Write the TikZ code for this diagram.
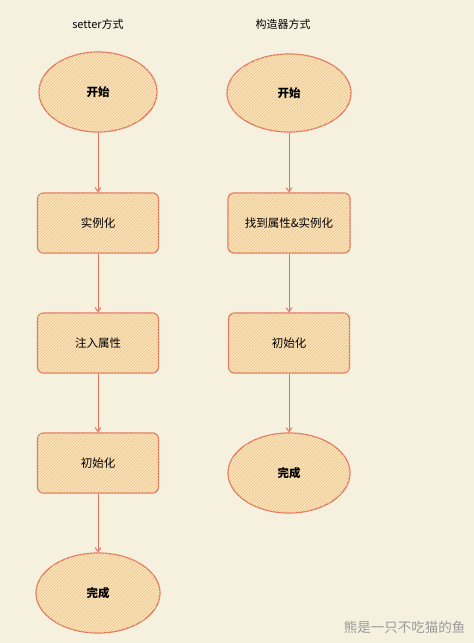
\documentclass[tikz,border=0pt]{standalone}
\usepackage{fontspec}
\setmainfont{Noto Sans CJK SC}
\usetikzlibrary{shapes.geometric,arrows.meta,patterns}
\definecolor{bg}{HTML}{F6F1DF}
\definecolor{strk}{HTML}{E2745F}
\definecolor{hatchbase}{HTML}{F8E6C4}
\definecolor{hatch}{HTML}{F1C07A}
\definecolor{wm}{HTML}{9A9A9A}
\tikzset{
  base/.style={draw=strk, line width=1.2pt, fill=hatchbase,
    postaction={pattern=north east lines, pattern color=hatch},
    font=\fontsize{11.5}{13}\selectfont, text=black, inner sep=0pt},
  oval/.style={base, ellipse, minimum width=118pt, minimum height=80pt, font=\fontsize{11.5}{13}\selectfont\bfseries},
  box/.style={base, rectangle, rounded corners=6pt, minimum width=121pt, minimum height=60pt},
  conn/.style={draw=strk, line width=1pt, -{Straight Barb[length=4pt,width=6pt]}},
  title/.style={font=\fontsize{11}{13}\selectfont, text=black},
}
\begin{document}
\begin{tikzpicture}[x=1pt,y=-1pt]
\useasboundingbox[fill=bg] (0,0) rectangle (474,643);
\node[title] (t1) at (98,24) {setter方式};
\node[title] (t2) at (283,24) {构造器方式};
\node[oval] (a1) at (98,92) {开始};
\node[box] (a2) at (98,223) {实例化};
\node[box] (a3) at (98,343) {注入属性};
\node[box] (a4) at (98,463) {初始化};
\node[oval, minimum width=124pt] (a5) at (98,593) {完成};
\node[oval, minimum width=124pt, minimum height=78pt] (b1) at (289,93) {开始};
\node[box, minimum width=122pt] (b2) at (289,223) {找到属性\&实例化};
\node[box] (b3) at (289,343) {初始化};
\node[oval, minimum width=122pt] (b4) at (289,473) {完成};
\draw[conn] (a1) -- (a2);
\draw[conn] (a2) -- (a3);
\draw[conn] (a3) -- (a4);
\draw[conn] (a4) -- (a5);
\draw[conn] (b1) -- (b2);
\draw[conn] (b2) -- (b3);
\draw[conn] (b3) -- (b4);
\node[text=wm, font=\fontsize{13.5}{15}\selectfont, anchor=east] (w) at (469,627) {熊是一只不吃猫的鱼};
\end{tikzpicture}
\end{document}
